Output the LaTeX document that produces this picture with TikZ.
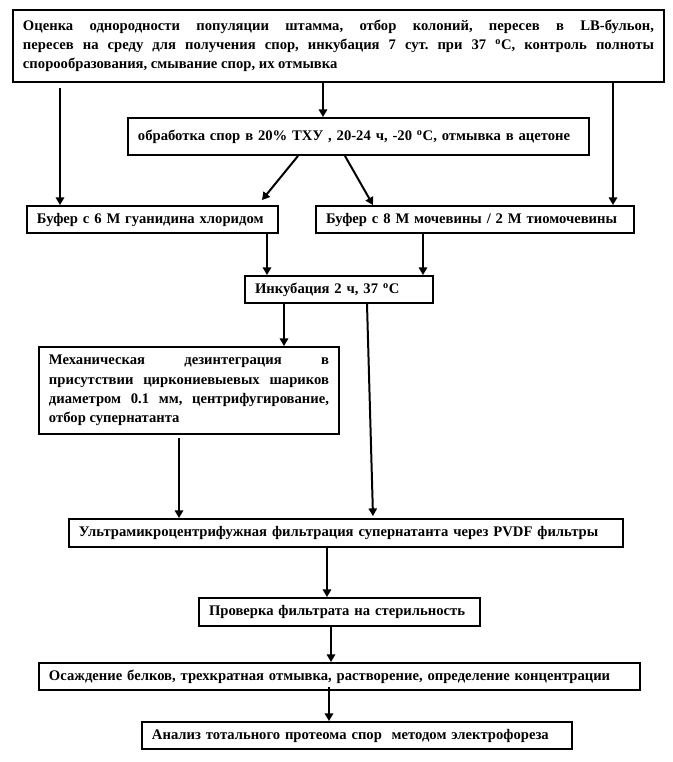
\documentclass[tikz,border=0pt]{standalone}
\usepackage{fontspec}
\setmainfont{Liberation Serif}
\usetikzlibrary{arrows.meta,calc}
\hyphenpenalty=10000
\exhyphenpenalty=10000
\tolerance=9999
\frenchspacing
\tikzset{
  stage/.style={draw=black, line width=1.6pt, inner xsep=3mm, inner ysep=1mm,
                align=left, font=\bfseries\fontsize{12.5}{16.4}\selectfont},
  flow/.style={-{Triangle[length=2.3mm,width=2.5mm]}, line width=1.7pt, black},
}

\begin{document}
\begin{tikzpicture}[x=0.3mm, y=-0.3mm]
  \useasboundingbox (0,0) rectangle (673,762);

  % stages, top to bottom
  \node[stage, text width=189.3mm, minimum height=21.6mm, align=justify] (assess) at (338.5,46)
    {Оценка однородности популяции штамма, отбор колоний, пересев в LB-бульон,\linebreak
     пересев на среду для получения спор, инкубация 7 сут. при 37 \textsuperscript{o}С, контроль полноты\linebreak
     спорообразования, смывание спор, их отмывка};
  \node[stage, text width=132.3mm, minimum height=11.1mm] (tca) at (358.5,136.5)
    {обработка спор в 20\% ТХУ , 20-24 ч, -20 \textsuperscript{o}С, отмывка в ацетоне};
  \node[stage, text width=69.3mm, minimum height=8.1mm] (guan) at (152.5,219.5)
    {Буфер с 6 М гуанидина хлоридом};
  \node[stage, text width=89.4mm, minimum height=8.1mm] (urea) at (475,219.5)
    {Буфер с 8 М мочевины / 2 М тиомочевины};
  \node[stage, text width=50.4mm, minimum height=8.1mm] (incub) at (339,289.5)
    {Инкубация 2 ч, 37 \textsuperscript{o}С};
  \node[stage, text width=84mm, minimum height=26.1mm, align=justify] (mech) at (189,390.5)
    {Механическая дезинтеграция в\linebreak
     присутствии циркониевыевых шариков\linebreak
     диаметром 0.1 мм, центрифугирование,\linebreak
     отбор супернатанта};
  \node[stage, text width=160.2mm, minimum height=8.4mm] (ultra) at (346,533)
    {Ультрамикроцентрифужная фильтрация супернатанта через PVDF фильтры};
  \node[stage, text width=78.3mm, minimum height=8.4mm] (steril) at (339.5,612)
    {Проверка фильтрата на стерильность};
  \node[stage, text width=174.3mm, minimum height=8.1mm] (precip) at (339.5,676.5)
    {Осаждение белков, трехкратная отмывка, растворение, определение концентрации};
  \node[stage, text width=123mm, minimum height=8.1mm] (proteome) at (357,735.5)
    {Анализ тотального протеома спор\ \ методом электрофореза};

  % where the connectors leave and enter
  \coordinate (leftfeed)  at (60,0);
  \coordinate (midfeed)   at (323,0);
  \coordinate (rightfeed) at (613,0);
  \coordinate (tcaL)      at (298,0);
  \coordinate (guanin)    at (262,0);
  \coordinate (tcaR)      at (345,0);
  \coordinate (ureain)    at (373,0);
  \coordinate (guanout)   at (267,0);
  \coordinate (ureaout)   at (423,0);
  \coordinate (mechin)    at (284,0);
  \coordinate (incR)      at (367,0);
  \coordinate (ultrain)   at (373,0);
  \coordinate (mechout)   at (179,0);
  \coordinate (ultraout)  at (327,0);
  \coordinate (sterout)   at (331,0);
  \coordinate (precout)   at (329,0);

  % connectors
  \draw[flow] ([yshift=-1.5mm]assess.south -| leftfeed) -- (guan.north -| leftfeed);
  \draw[flow] (assess.south -| midfeed) -- (tca.north -| midfeed);
  \draw[flow] (assess.south -| rightfeed) -- (urea.north -| rightfeed);
  \draw[flow] (tca.south -| tcaL) -- ([yshift=1.5mm]guan.north -| guanin);
  \draw[flow] (tca.south -| tcaR) -- (urea.north -| ureain);
  \draw[flow] (guan.south -| guanout) -- (incub.north -| guanout);
  \draw[flow] (urea.south -| ureaout) -- (incub.north -| ureaout);
  \draw[flow] (incub.south -| mechin) -- (mech.north -| mechin);
  \draw[flow] (incub.south -| incR) -- ([yshift=0.6mm]ultra.north -| ultrain);
  \draw[flow] ([yshift=-1mm]mech.south -| mechout) -- (ultra.north -| mechout);
  \draw[flow] (ultra.south -| ultraout) -- (steril.north -| ultraout);
  \draw[flow] (steril.south -| sterout) -- (precip.north -| sterout);
  \draw[flow] ([yshift=1.2mm]precip.south -| precout) -- (proteome.north -| precout);

\end{tikzpicture}
\end{document}
